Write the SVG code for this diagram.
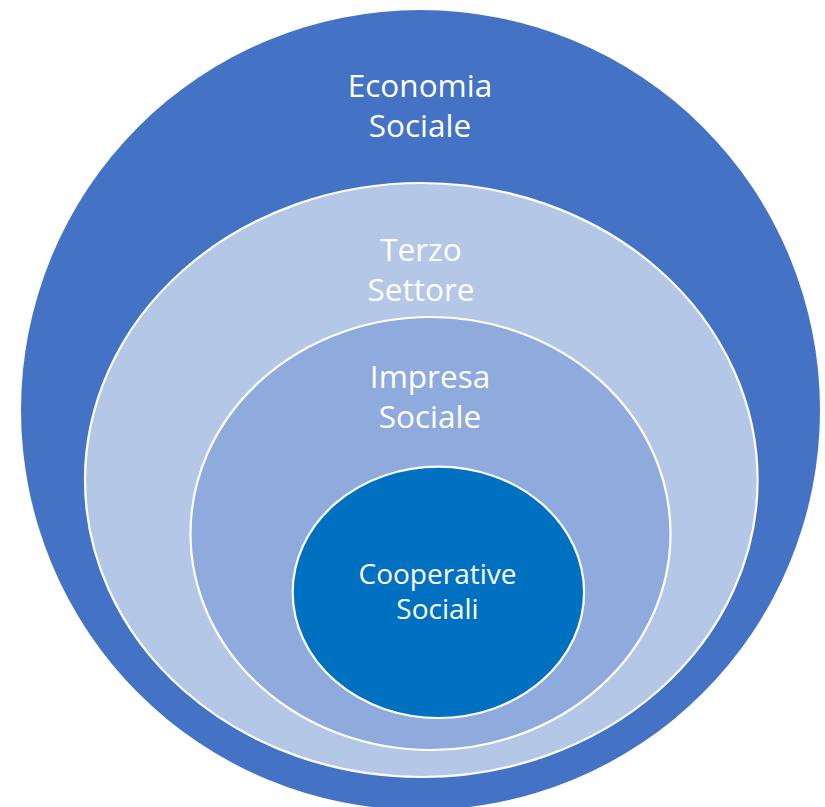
<svg xmlns="http://www.w3.org/2000/svg" width="825" height="807" viewBox="0 0 825 807">
  <style>
    .ring { stroke: #ffffff; stroke-width: 2.2; }
    .label { font-family: "Open Sans", "Noto Sans", sans-serif; fill: #ffffff; text-anchor: middle; }
    .big { font-size: 31.5px; }
    .small { font-size: 28px; }
  </style>
  <rect width="825" height="807" fill="#ffffff"/>

  <g id="economia-sociale">
    <ellipse cx="420.5" cy="410" rx="399.5" ry="400" fill="#4472C4"/>
    <text class="label big" x="420" y="96.5">Economia</text>
    <text class="label big" x="420" y="136.5">Sociale</text>
  </g>

  <g id="terzo-settore">
    <ellipse class="ring" cx="421.3" cy="480" rx="336.3" ry="297" fill="#B4C7E7"/>
    <text class="label big" x="421" y="261">Terzo</text>
    <text class="label big" x="421" y="301">Settore</text>
  </g>

  <g id="impresa-sociale">
    <ellipse class="ring" cx="430.5" cy="533.5" rx="240" ry="216.5" fill="#8FAADC"/>
    <text class="label big" x="430" y="387.5">Impresa</text>
    <text class="label big" x="430" y="427.5">Sociale</text>
  </g>

  <g id="cooperative-sociali">
    <ellipse class="ring" cx="438.4" cy="592.3" rx="145.7" ry="125.7" fill="#0070C0"/>
    <text class="label small" x="437.5" y="584">Cooperative</text>
    <text class="label small" x="437.5" y="619">Sociali</text>
  </g>

  <g id="connectors"/>
</svg>
